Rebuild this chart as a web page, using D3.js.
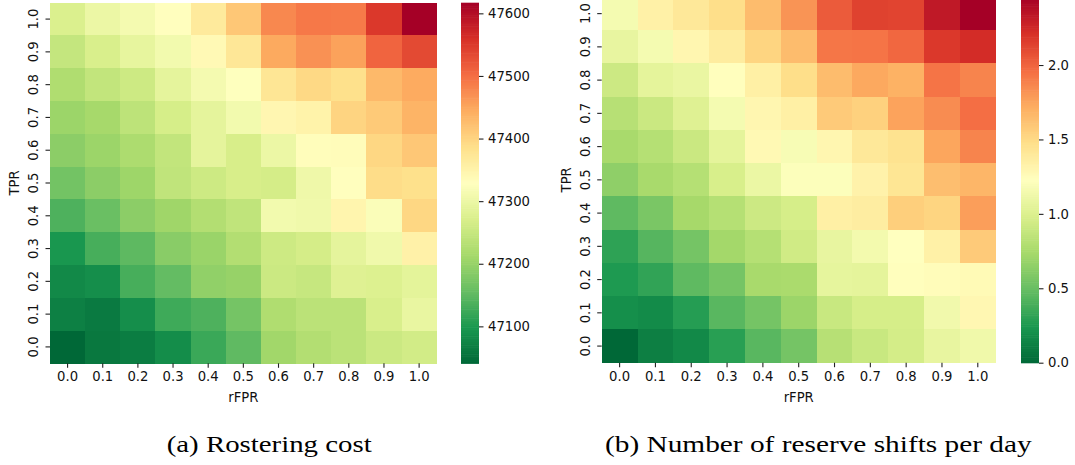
<!DOCTYPE html>
<html>
<head>
<meta charset="utf-8">
<script src="https://cdn.jsdelivr.net/npm/d3@7"></script>
<style>
  html, body { margin: 0; padding: 0; background: #fff; }
  svg { display: block; }
  .tick text { font-family: "DejaVu Sans", sans-serif; }
  .caption { font-family: "Liberation Serif", "DejaVu Serif", serif; }
</style>
</head>
<body>
<svg width="1075" height="465"></svg>
<script>
var svg = d3.select("svg"),
    W = +svg.attr("width"),
    H = +svg.attr("height");

// axis categories
var rfpr = ["0.0","0.1","0.2","0.3","0.4","0.5","0.6","0.7","0.8","0.9","1.0"];
var tpr  = ["1.0","0.9","0.8","0.7","0.6","0.5","0.4","0.3","0.2","0.1","0.0"]; // top -> bottom

// (a) rostering cost, rows TPR 1.0 ... 0.0, cols rFPR 0.0 ... 1.0
var cost = [
  [47275,47300,47312,47330,47368,47415,47478,47492,47490,47552,47617],
  [47248,47272,47293,47310,47340,47373,47448,47470,47455,47510,47535],
  [47225,47245,47258,47290,47312,47328,47375,47395,47385,47432,47447],
  [47205,47215,47240,47268,47290,47310,47345,47352,47400,47412,47437],
  [47190,47205,47222,47245,47290,47270,47300,47333,47335,47397,47415],
  [47168,47190,47207,47243,47258,47270,47267,47305,47330,47390,47385],
  [47138,47160,47190,47208,47228,47243,47310,47307,47348,47322,47397],
  [47097,47133,47150,47188,47203,47228,47258,47267,47290,47307,47355],
  [47080,47087,47133,47155,47195,47200,47256,47250,47280,47277,47288],
  [47070,47063,47087,47126,47138,47170,47225,47238,47238,47272,47296],
  [47041,47060,47066,47085,47123,47152,47210,47228,47238,47256,47264]
];
var costTicks = [47100, 47200, 47300, 47400, 47500, 47600];

// (b) number of reserve shifts per day
var shifts = [
  [1.16,1.34,1.41,1.48,1.65,1.82,2.04,2.14,2.13,2.33,2.457],
  [1.08,1.16,1.30,1.38,1.53,1.65,1.93,1.94,1.99,2.18,2.23],
  [0.92,1.06,1.09,1.24,1.35,1.48,1.65,1.74,1.70,1.94,1.88],
  [0.82,0.91,1.02,1.16,1.30,1.35,1.58,1.55,1.76,1.85,1.96],
  [0.75,0.81,0.91,1.06,1.28,1.18,1.30,1.41,1.45,1.75,1.88],
  [0.65,0.75,0.81,0.98,1.10,1.21,1.21,1.33,1.43,1.64,1.68],
  [0.47,0.57,0.74,0.81,0.92,0.97,1.35,1.37,1.56,1.53,1.78],
  [0.31,0.44,0.55,0.73,0.81,0.94,1.08,1.15,1.23,1.34,1.58],
  [0.26,0.32,0.47,0.55,0.75,0.76,1.07,1.06,1.24,1.25,1.27],
  [0.20,0.18,0.28,0.45,0.55,0.70,0.90,0.97,0.97,1.14,1.29],
  [0.00,0.12,0.17,0.29,0.45,0.55,0.82,0.90,0.96,1.08,1.13]
];
var shiftTicks = [0.0, 0.5, 1.0, 1.5, 2.0];

var captions = ["(a) Rostering cost", "(b) Number of reserve shifts per day"];

// matplotlib RdYlGn_r (colorbrewer 11 stops, reversed)
var rdylgn = ["#a50026","#d73027","#f46d43","#fdae61","#fee08b","#ffffbf","#d9ef8b","#a6d96a","#66bd63","#1a9850","#006837"];
var cmapStops = rdylgn.slice().reverse();

function makeColor(vmin, vmax){
  var dom = d3.range(11).map(function(i){ return vmin + (vmax - vmin) * i / 10; });
  return d3.scaleLinear().domain(dom).range(cmapStops).interpolate(d3.interpolateRgb).clamp(true);
}

/***********************************************************************************************/

function drawPanel(p){
  var g = svg.append("g");
  var x = d3.scaleBand().domain(rfpr).range([p.x0, p.x1]).padding(0);
  var y = d3.scaleBand().domain(tpr).range([p.y0, p.y1]).padding(0);
  var color = makeColor(p.vmin, p.vmax);

  var cells = [];
  p.values.forEach(function(row, i){
    row.forEach(function(v, j){ cells.push({ r: tpr[i], c: rfpr[j], v: v }); });
  });

  g.append("g").selectAll("rect").data(cells).join("rect")
    .attr("x", function(d){ return x(d.c); })
    .attr("y", function(d){ return y(d.r); })
    .attr("width", x.bandwidth() + 0.5)
    .attr("height", y.bandwidth() + 0.5)
    .attr("fill", function(d){ return color(d.v); })
    .attr("shape-rendering", "crispEdges");

  var xAxis = g.append("g").attr("transform", "translate(0," + p.y1 + ")")
    .call(d3.axisBottom(x).tickSize(4.5).tickPadding(4));
  xAxis.select(".domain").remove();
  xAxis.selectAll("text").style("font-size", "13.2px").attr("fill", "#111");
  xAxis.selectAll("line").attr("stroke", "#222").attr("stroke-width", 1.1);

  var yAxis = g.append("g").attr("transform", "translate(" + p.x0 + ",0)")
    .call(d3.axisLeft(y).tickSize(4.5).tickPadding(4));
  yAxis.select(".domain").remove();
  yAxis.selectAll("line").attr("stroke", "#222").attr("stroke-width", 1.1);
  yAxis.selectAll("text")
    .style("font-size", "13.2px").attr("fill", "#111")
    .attr("x", null).attr("dy", null)
    .attr("text-anchor", "middle")
    .attr("transform", "translate(-12.2,0) rotate(-90)");

  g.append("text")
    .attr("x", (p.x0 + p.x1) / 2).attr("y", 401.5)
    .attr("text-anchor", "middle")
    .style("font-family", "DejaVu Sans, sans-serif").style("font-size", "13.2px").attr("fill", "#111")
    .text("rFPR");

  g.append("text")
    .attr("transform", "translate(" + (p.x0 - 31) + "," + ((p.y0 + p.y1) / 2) + ") rotate(-90)")
    .attr("text-anchor", "middle")
    .style("font-family", "DejaVu Sans, sans-serif").style("font-size", "13.2px").attr("fill", "#111")
    .text("TPR");

  // colorbar
  var cy = d3.scaleLinear().domain([p.vmin, p.vmax]).range([p.y1, p.y0]);
  var n = 200;
  var steps = d3.range(n).map(function(i){ return p.vmin + (p.vmax - p.vmin) * i / n; });
  var dv = (p.vmax - p.vmin) / n;
  g.append("g").selectAll("rect").data(steps).join("rect")
    .attr("x", p.cb0).attr("width", p.cb1 - p.cb0)
    .attr("y", function(d){ return cy(d + dv); })
    .attr("height", function(d){ return cy(d) - cy(d + dv) + 0.6; })
    .attr("fill", function(d){ return color(d + dv / 2); });

  var cAxis = g.append("g").attr("transform", "translate(" + p.cb1 + ",0)")
    .call(d3.axisRight(cy).tickValues(p.ticks).tickFormat(p.fmt).tickSize(4.5).tickPadding(4.5));
  cAxis.select(".domain").remove();
  cAxis.selectAll("line").attr("stroke", "#222").attr("stroke-width", 1.1);
  cAxis.selectAll("text").style("font-size", "13.2px").attr("fill", "#111");

  svg.append("text")
    .attr("class", "caption")
    .attr("x", p.capX).attr("y", 451.7)
    .attr("textLength", p.capW).attr("lengthAdjust", "spacingAndGlyphs")
    .attr("font-size", 24).attr("fill", "#000")
    .text(p.caption);
}

drawPanel({
  values: cost, vmin: 47041, vmax: 47617, ticks: costTicks, fmt: d3.format("d"),
  x0: 50, x1: 436.7, y0: 2.7, y1: 363.3, cb0: 461, cb1: 479,
  caption: captions[0], capX: 166.7, capW: 205
});

drawPanel({
  values: shifts, vmin: 0, vmax: 2.457, ticks: shiftTicks, fmt: d3.format(".1f"),
  x0: 601.7, x1: 995.7, y0: -3, y1: 362.7, cb0: 1021, cb1: 1039,
  caption: captions[1], capX: 605, capW: 426.7
});
</script>
</body>
</html>
